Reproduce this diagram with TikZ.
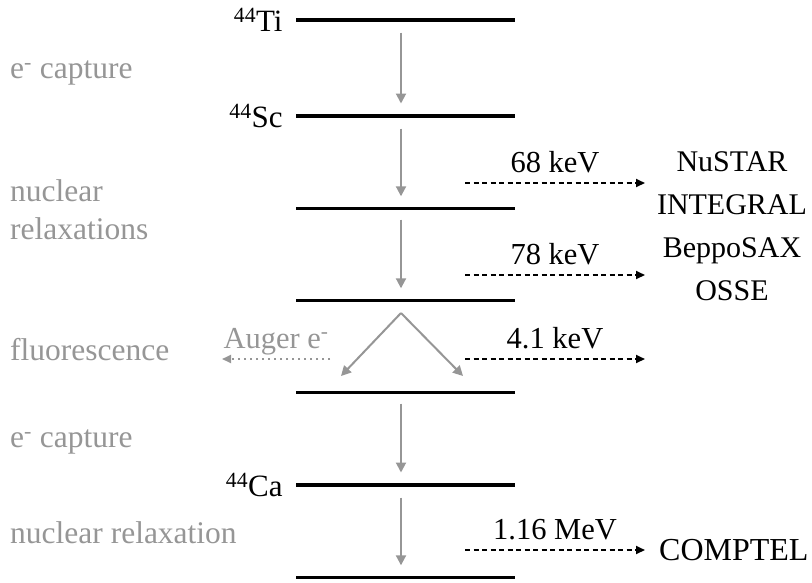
\documentclass[tikz,border=0pt]{standalone}
\usepackage{fontspec}
\setmainfont{Liberation Serif}
\usetikzlibrary{arrows.meta,positioning}
\definecolor{procgray}{RGB}{150,150,150}
\tikzset{
  statebar/.style  = {shape=rectangle, fill=black, inner sep=0pt,
                      minimum width=219pt, minimum height=3pt},
  groundbar/.style = {statebar, minimum height=4.6pt},
  nucl/.style      = {font=\fontsize{31}{36}\selectfont, inner sep=0pt},
  process/.style   = {font=\fontsize{31.5}{38}\selectfont, text=procgray,
                      anchor=west, align=left, inner sep=0pt},
  decay/.style     = {draw=procgray, line width=2pt,
                      -{Triangle[length=10pt,width=10pt]}},
  photon/.style    = {draw, line width=2pt, dash pattern=on 5pt off 3.5pt,
                      -{Triangle[length=9pt,width=8pt]}},
  auger/.style     = {decay, dash pattern=on 2pt off 4pt,
                      -{Triangle[length=9pt,width=8pt]}},
  energy/.style    = {font=\fontsize{30.5}{36}\selectfont, anchor=base,
                      yshift=11pt, inner sep=0pt},
  instr/.style     = {font=\fontsize{30}{43}\selectfont, align=center,
                      inner sep=0pt}
}
\begin{document}
\begin{tikzpicture}[x=1pt, y=-1pt]
  \useasboundingbox (0,0) rectangle (812,582);

  % nuclear levels
  \node [groundbar] (ti)  at (405.5,20)  {};
  \node [groundbar] (sc)  at (405.5,116) {};
  \node [statebar]  (sc1) at (405.5,208) {};
  \node [statebar]  (sc2) at (405.5,300) {};
  \node [statebar]  (sc3) at (405.5,392) {};
  \node [groundbar] (ca)  at (405.5,485) {};
  \node [statebar]  (ca1) at (405.5,577) {};

  \node [nucl, left=13pt of ti] (ti-lab) {\textsuperscript{44}Ti};
  \node [nucl, left=13pt of sc] (sc-lab) {\textsuperscript{44}Sc};
  \node [nucl, left=13pt of ca] (ca-lab) {\textsuperscript{44}Ca};

  % processes
  \node [process] (cap1)   at (10,73)  {e\textsuperscript{-} capture};
  \node [process] (relax1) at (10,210) {nuclear\\relaxations};
  \node [process] (fluo)   at (10,350) {fluorescence};
  \node [process] (cap2)   at (10,442) {e\textsuperscript{-} capture};
  \node [process] (relax2) at (10,533) {nuclear relaxation};

  % transitions
  \coordinate (ax) at (401,0);
  \foreach \a/\b in {ti/sc, sc/sc1, sc1/sc2, sc3/ca, ca/ca1}
    \draw [decay, shorten <=10pt, shorten >=10pt] (\a.south -| ax) -- (\b.north -| ax);

  \coordinate (apex) at (401,313);
  \coordinate (kl)   at (341,376);
  \coordinate (kr)   at (463,376);
  \draw [decay] (apex) -- (kl);
  \draw [decay] (apex) -- (kr);

  \coordinate (au-s) at (330,359);
  \coordinate (au-e) at (222,359);
  \draw [auger] (au-s) -- node [energy, text=procgray] (au-lab) {Auger e\textsuperscript{-}} (au-e);

  % emitted photons
  \foreach \y/\e [count=\i] in {183/68 keV, 275/78 keV, 359/4.1 keV, 550/1.16 MeV} {
    \coordinate (g\i-s) at (465,\y);
    \coordinate (g\i-e) at (645,\y);
    \draw [photon] (g\i-s) -- node [energy] (e\i) {\e} (g\i-e);
  }

  \node [instr] (inst) at (732,226) {NuSTAR\\INTEGRAL\\BeppoSAX\\OSSE};
  \node [instr, font=\fontsize{32}{43}\selectfont, right=14pt of g4-e] (comptel) {COMPTEL};
\end{tikzpicture}
\end{document}
